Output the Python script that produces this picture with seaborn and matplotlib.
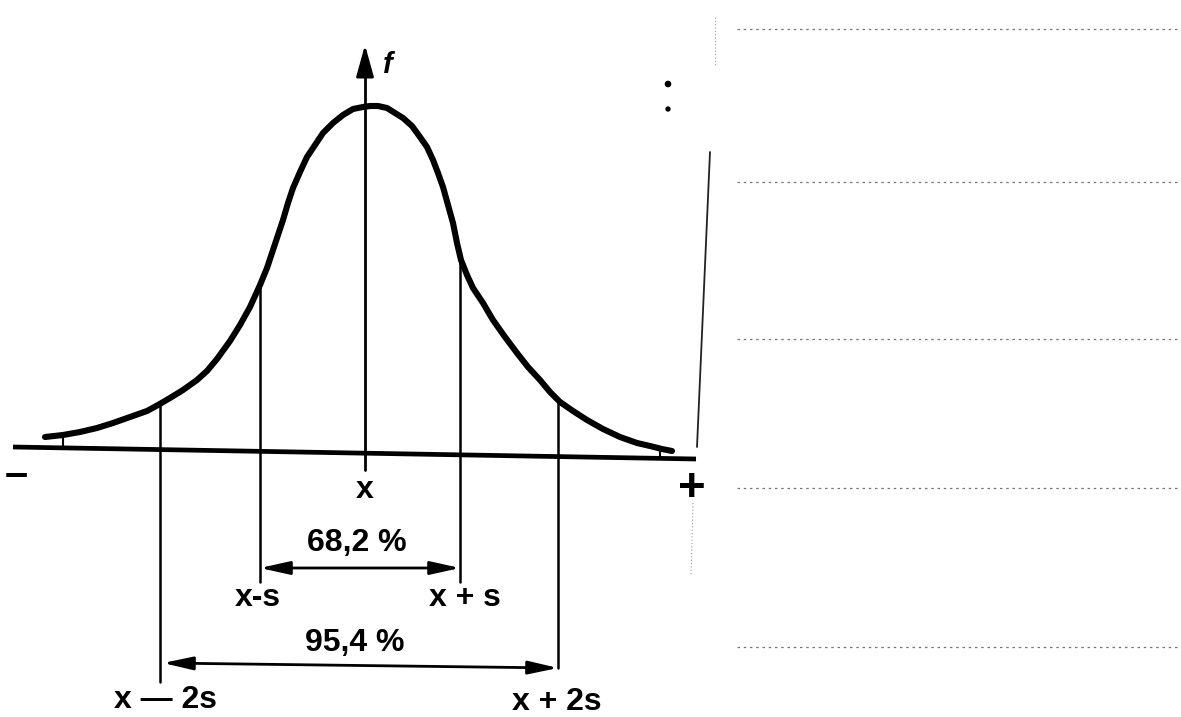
import matplotlib
matplotlib.use("Agg")
import matplotlib.pyplot as plt
import seaborn as sns
import pandas as pd

# bell curve: x in units of s (centre = 0), f in the same scale
curve_x = [-3.20, -3.02, -2.85, -2.68, -2.52, -2.35, -2.18, -2.07, -1.95, -1.82,
           -1.68, -1.58, -1.48, -1.35, -1.25, -1.15, -1.05, -0.98, -0.92, -0.87,
           -0.82, -0.77, -0.72, -0.65, -0.58, -0.50, -0.42, -0.32, -0.22, -0.12,
           -0.02, 0.05, 0.13, 0.22, 0.30, 0.38, 0.47, 0.55, 0.62, 0.68,
           0.73, 0.78, 0.83, 0.88, 0.92, 0.96, 1.02, 1.08, 1.18, 1.28,
           1.40, 1.52, 1.63, 1.75, 1.85, 1.95, 2.08, 2.22, 2.38, 2.55,
           2.72, 2.85, 2.97, 3.07]
curve_f = [0.16, 0.18, 0.21, 0.25, 0.30, 0.36, 0.42, 0.48, 0.55, 0.63,
           0.73, 0.82, 0.94, 1.12, 1.28, 1.46, 1.68, 1.85, 2.03, 2.18,
           2.33, 2.50, 2.65, 2.81, 2.96, 3.08, 3.20, 3.30, 3.38, 3.44,
           3.46, 3.47, 3.47, 3.45, 3.40, 3.35, 3.27, 3.16, 3.06, 2.93,
           2.80, 2.66, 2.48, 2.30, 2.10, 1.93, 1.78, 1.65, 1.50, 1.33,
           1.16, 1.00, 0.86, 0.73, 0.61, 0.51, 0.42, 0.33, 0.24, 0.16,
           0.10, 0.07, 0.04, 0.02]

# drop lines at x-2s, x-s, x+s, x+2s (top on the curve, bottom under the labels)
drop_x = [-2.05, -1.05, 0.95, 1.93]
drop_top = [0.48, 1.70, 1.91, 0.51]
drop_bottom = [-2.29, -1.29, -1.29, -2.15]

# horizontal axis (slightly tilted in the scan) and f axis
base_x = [-3.52, 3.31]
base_f = [0.06, -0.06]
f_axis_x = 0.0
f_axis_span = [-0.17, 4.08]

# share brackets
pct_labels = ["68,2 %", "95,4 %"]
pct_from = [-1.05, -2.02]
pct_to = [0.95, 1.93]
pct_y_from = [-1.15, -2.10]
pct_y_to = [-1.15, -2.15]
pct_label_x = [-0.08, -0.10]
pct_label_y = [-0.90, -1.90]

tick_labels = ["x", "x-s", "x + s", "x \u2014 2s", "x + 2s"]
tick_x = [0.0, -1.07, 1.0, -2.0, 1.92]
tick_y = [-0.37, -1.45, -1.45, -2.47, -2.49]

# ruled lines of the paper on the right side of the scan
rule_y = [4.24, 2.71, 1.14, -0.35, -1.94]

sns.set_theme(style="white")
plt.rcParams["font.family"] = ["Liberation Sans", "DejaVu Sans"]
plt.rcParams["text.color"] = "black"

fig = plt.figure(figsize=(11.81, 7.17), dpi=100)
ax = fig.add_axes([0, 0, 1, 1])
ax.set_xlim(-3.65, 8.16)
ax.set_ylim(-2.64, 4.53)
ax.axis("off")

df = pd.DataFrame({"x": curve_x, "f": curve_f})
sns.lineplot(data=df, x="x", y="f", sort=False, color="black", lw=4.4,
             ax=ax, solid_capstyle="round", solid_joinstyle="round")

# baseline
ax.plot(base_x, base_f, color="black", lw=3.4, solid_capstyle="butt")
# small ticks where the curve tails end
ax.plot([-3.02, -3.02], [0.17, 0.05], color="black", lw=1.5)
ax.plot([2.95, 2.95], [0.06, -0.05], color="black", lw=1.5)

# drop lines
for xv, top, bot in zip(drop_x, drop_top, drop_bottom):
    ax.plot([xv, xv], [bot, top], color="black", lw=1.8)

# f axis with arrow
ax.plot([f_axis_x, f_axis_x], [f_axis_span[0], f_axis_span[1] - 0.2],
        color="black", lw=2.0)
ax.annotate("", xy=(f_axis_x, f_axis_span[1]), xytext=(f_axis_x, f_axis_span[1] - 0.3),
            arrowprops=dict(arrowstyle="-|>,head_length=0.97,head_width=0.27",
                            mutation_scale=20, color="black", lw=2.0,
                            shrinkA=0, shrinkB=0))
ax.text(0.23, 3.88, "f", fontsize=21, style="italic", fontweight="bold",
        ha="center", va="center")

# share brackets
for x0, x1, y0, y1 in zip(pct_from, pct_to, pct_y_from, pct_y_to):
    ax.annotate("", xy=(x1, y1), xytext=(x0, y0),
                arrowprops=dict(arrowstyle="<|-|>,head_length=0.9,head_width=0.2",
                                mutation_scale=20, color="black", lw=2.0,
                                shrinkA=0, shrinkB=0))
for lab, xv, yv in zip(pct_labels, pct_label_x, pct_label_y):
    ax.text(xv, yv, lab, fontsize=23, fontweight="bold", ha="center", va="center")

for lab, xv, yv in zip(tick_labels, tick_x, tick_y):
    ax.text(xv, yv, lab, fontsize=23, fontweight="bold", ha="center", va="center")

# minus and plus ends of the axis
ax.text(-3.49, -0.22, "\u2013", fontsize=30, fontweight="bold", ha="center", va="center")
ax.text(3.27, -0.36, "+", fontsize=34, fontweight="bold", ha="center", va="center")

# ruled paper lines and the edge of the sheet
for yv in rule_y:
    ax.plot([3.72, 8.16], [yv, yv], color="#777777", lw=0.9, ls=(0, (2, 3)))
ax.plot([3.45, 3.32], [3.01, 0.06], color="#222222", lw=1.3)
ax.plot([3.50, 3.50], [4.36, 3.86], color="#999999", lw=0.8, ls=(0, (1, 2)))
ax.plot([3.28, 3.26], [-0.50, -1.22], color="#999999", lw=0.8, ls=(0, (1, 2)))
ax.scatter([3.03, 3.03], [3.69, 3.44], s=[14, 8], color="black")

fig.savefig("out.png", dpi=100)
